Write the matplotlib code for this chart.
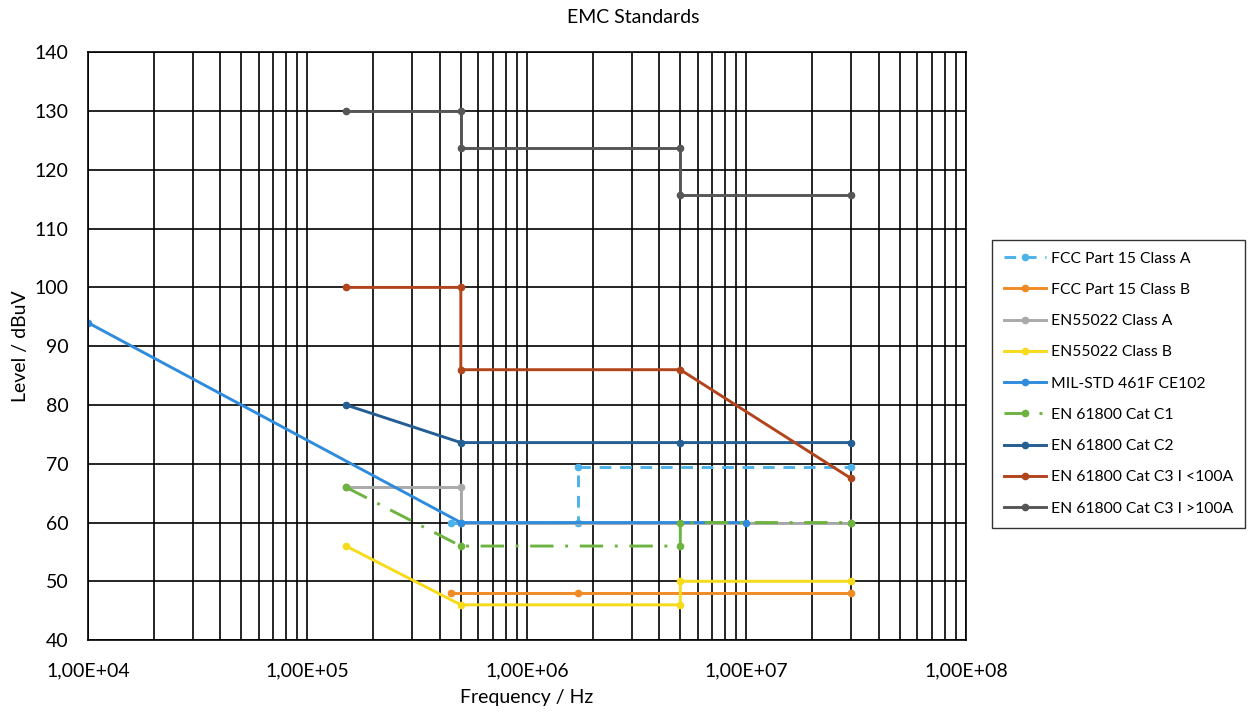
import math

import matplotlib
matplotlib.use("Agg")
import matplotlib.pyplot as plt
from matplotlib.ticker import LogLocator, FuncFormatter, NullFormatter

plt.rcParams["font.family"] = ["Lato", "DejaVu Sans"]

# Limit lines (frequency in Hz, level in dBuV)
fcc_a_f = [4.5e5, 1.705e6, 1.705e6, 3.0e7]
fcc_a_l = [60, 60, 69.5, 69.5]

fcc_b_f = [4.5e5, 1.705e6, 3.0e7]
fcc_b_l = [48, 48, 48]

en55022_a_f = [1.5e5, 5.0e5, 5.0e5, 3.0e7]
en55022_a_l = [66, 66, 60, 60]

en55022_b_f = [1.5e5, 5.0e5, 5.0e6, 5.0e6, 3.0e7]
en55022_b_l = [56, 46, 46, 50, 50]

mil_f = [1.0e4, 5.0e5, 1.0e7]
mil_l = [94, 60, 60]

c1_f = [1.5e5, 5.0e5, 5.0e6, 5.0e6, 3.0e7]
c1_l = [66, 56, 56, 60, 60]

c2_f = [1.5e5, 5.0e5, 5.0e6, 3.0e7]
c2_l = [80, 73.6, 73.6, 73.6]

c3a_f = [1.5e5, 5.0e5, 5.0e5, 5.0e6, 3.0e7]
c3a_l = [100, 100, 86, 86, 67.5]

c3b_f = [1.5e5, 5.0e5, 5.0e5, 5.0e6, 5.0e6, 3.0e7]
c3b_l = [130, 130, 123.7, 123.7, 115.7, 115.7]

series = [
    ("FCC Part 15 Class A", fcc_a_f, fcc_a_l, "#4DB1EA", (0, (4, 3))),
    ("FCC Part 15 Class B", fcc_b_f, fcc_b_l, "#F08A24", "-"),
    ("EN55022 Class A", en55022_a_f, en55022_a_l, "#A9A9A9", "-"),
    ("EN55022 Class B", en55022_b_f, en55022_b_l, "#F7DA1A", "-"),
    ("MIL-STD 461F CE102", mil_f, mil_l, "#2F8BDD", "-"),
    ("EN 61800 Cat C1", c1_f, c1_l, "#6DB33F", (0, (8, 4, 1, 4))),
    ("EN 61800 Cat C2", c2_f, c2_l, "#245E93", "-"),
    ("EN 61800 Cat C3 I <100A", c3a_f, c3a_l, "#B2441C", "-"),
    ("EN 61800 Cat C3 I >100A", c3b_f, c3b_l, "#565656", "-"),
]

fig, ax = plt.subplots(figsize=(12.56, 7.16), dpi=100)
fig.subplots_adjust(left=0.070, right=0.769, top=0.927, bottom=0.106)

for name, f, l, color, ls in series:
    ax.plot(f, l, color=color, linestyle=ls, linewidth=2.1,
            marker="o", markersize=4.5, label=name)

ax.set_xscale("log")
ax.set_xlim(1e4, 1e8)
ax.set_ylim(40, 140)
ax.set_yticks(range(40, 141, 10))

ax.xaxis.set_major_locator(LogLocator(base=10))
ax.xaxis.set_minor_locator(LogLocator(base=10, subs=range(2, 10)))
ax.xaxis.set_major_formatter(FuncFormatter(lambda v, p: "1,00E+%02d" % round(math.log10(v))))
ax.xaxis.set_minor_formatter(NullFormatter())

ax.grid(True, which="major", axis="both", color="black", linewidth=1.2)
ax.grid(True, which="minor", axis="x", color="black", linewidth=1.2)
ax.set_axisbelow(True)
for s in ax.spines.values():
    s.set_color("black")
    s.set_linewidth(1.2)

ax.tick_params(axis="both", which="both", length=0, labelsize=14)
ax.tick_params(axis="x", pad=16)
ax.tick_params(axis="y", pad=14)

fig.suptitle("EMC Standards", x=0.504, y=0.976, va="center", fontsize=14)
ax.set_xlabel("Frequency / Hz", fontsize=14, labelpad=7)
ax.set_ylabel("Level / dBuV", fontsize=14, labelpad=4)

leg = ax.legend(loc="upper left", bbox_to_anchor=(0.790, 0.665),
                bbox_transform=fig.transFigure, fontsize=11.3,
                frameon=True, fancybox=False, edgecolor="black",
                handlelength=2.7, labelspacing=1.1, borderpad=0.75,
                handletextpad=0.3, borderaxespad=0)
leg.get_frame().set_linewidth(1.0)

fig.savefig("out.png", dpi=100)
